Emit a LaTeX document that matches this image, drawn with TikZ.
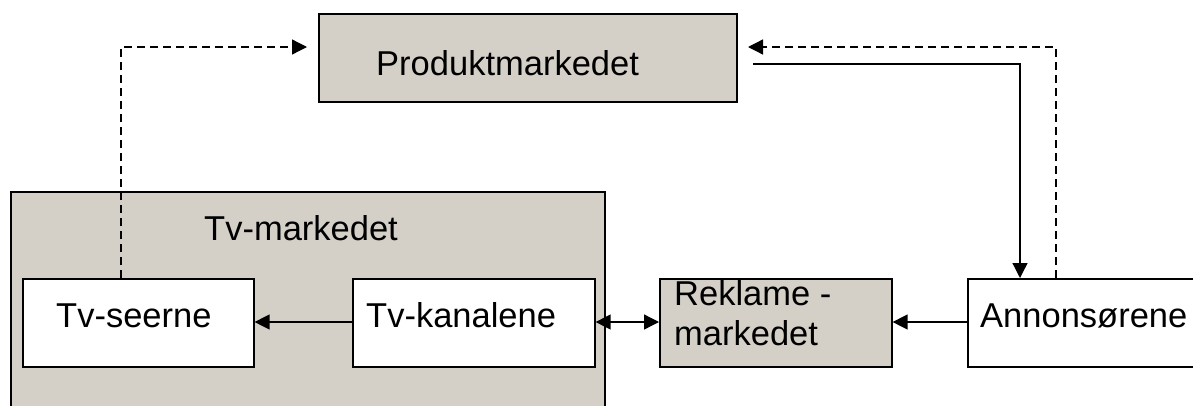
\documentclass[tikz,border=0pt]{standalone}
\usepackage{fontspec}
\setmainfont{Liberation Sans}
\usetikzlibrary{arrows.meta}
\definecolor{boxgray}{RGB}{212,208,200}
\tikzset{
  box/.style={draw=black, line width=1.6pt, rectangle, inner sep=0pt, anchor=north west},
  graybox/.style={box, fill=boxgray},
  whitebox/.style={box, fill=white},
  txt/.style={anchor=base west, inner sep=0pt, font=\fontsize{34.5}{40}\selectfont},
  conn/.style={line width=1.3pt, -{Triangle[length=15pt,width=15pt]}},
  dconn/.style={conn, dash pattern=on 8pt off 5pt},
  bconn/.style={line width=1.3pt, {Triangle[length=15pt,width=15pt]}-{Triangle[length=15pt,width=15pt]}}
}
\begin{document}
\begin{tikzpicture}[x=1pt,y=-1pt]
\useasboundingbox (0,0) rectangle (1193,405);
\clip (0,0) rectangle (1193,405);
% Tv-markedet
\node[graybox, minimum width=594pt, minimum height=240pt] (tvm) at (10,191) {};
\node[txt] (tvmt) at (204,240) {Tv-markedet};
% Produktmarkedet
\node[graybox, minimum width=418pt, minimum height=88pt] (prod) at (318,13) {};
\node[txt] (prodt) at (376,75) {Produktmarkedet};
% inner boxes
\node[whitebox, minimum width=231pt, minimum height=88pt] (seer) at (22,278) {};
\node[txt] (seert) at (56,327) {Tv-seerne};
\node[whitebox, minimum width=242pt, minimum height=88pt] (kan) at (352,278) {};
\node[txt] (kant) at (366,327) {Tv-kanalene};
\node[graybox, minimum width=232pt, minimum height=88pt] (rek) at (659,278) {};
\node[txt] (rekt1) at (674,305) {Reklame -};
\node[txt] (rekt2) at (674,345) {markedet};
\node[whitebox, minimum width=240pt, minimum height=88pt] (ann) at (967,278) {};
\node[txt] (annt) at (980,327) {Annonsørene};
% coordinates
\coordinate (seerTop) at (121,278);
\coordinate (pl) at (307,47);
\coordinate (annTopD) at (1056,278);
\coordinate (pr) at (748,47);
\coordinate (solidStart) at (753,64);
\coordinate (annTopS) at (1020,278);
% connectors
\draw[conn] (kan.west |- 0,322) -- (seer.east |- 0,322);
\draw[bconn] (kan.east |- 0,322) -- (rek.west |- 0,322);
\draw[conn] (ann.west |- 0,322) -- (rek.east |- 0,322);
\draw[dconn] (seerTop) -- (seerTop |- pl) -- (pl);
\draw[dconn] (annTopD) -- (annTopD |- pr) -- (pr);
\draw[conn] (solidStart) -- (annTopS |- solidStart) -- (annTopS);
\end{tikzpicture}
\end{document}
